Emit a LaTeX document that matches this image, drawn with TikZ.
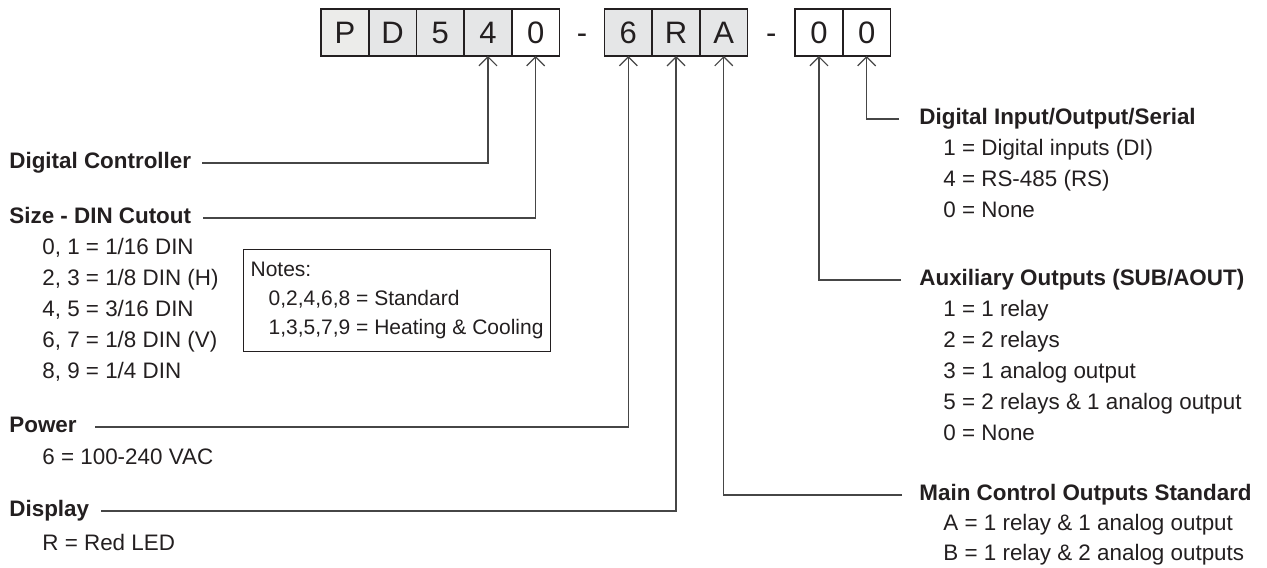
\documentclass[tikz,border=0pt]{standalone}
\usepackage{fontspec}
\setmainfont{Liberation Sans}
\usetikzlibrary{positioning,arrows.meta}

\definecolor{boxgray}{RGB}{229,230,231}
\definecolor{boxpale}{RGB}{236,236,234}
\definecolor{inkgray}{RGB}{35,31,32}
\definecolor{wiregray}{RGB}{70,70,70}

\tikzset{
    digit/.style={draw=inkgray, line width=0.8pt, fill=boxgray, minimum width=23.85pt,
        minimum height=23.5pt, inner sep=0pt, outer sep=0pt, text height=11pt, text depth=0pt,
        font=\fontsize{15.5}{17}\selectfont},
    dashgap/.style={minimum height=23.5pt, inner sep=0pt, outer sep=0pt, text height=11pt,
        text depth=0pt, font=\fontsize{15.5}{17}\selectfont},
    head/.style={anchor=west, inner sep=0pt, text height=8.2pt, text depth=2.4pt,
        font=\fontsize{11.2}{13}\selectfont\bfseries},
    entry/.style={anchor=west, inner sep=0pt, text height=8.2pt, text depth=2.4pt,
        font=\fontsize{11.2}{13}\selectfont},
    notebox/.style={draw=inkgray, line width=0.6pt, align=left, anchor=north west,
        inner xsep=3.5pt, inner ysep=6.3pt, font=\fontsize{10.5}{14.5}\selectfont},
    wire/.style={draw=wiregray, line width=0.6pt, -{Straight Barb[length=4.5pt,width=9pt]}},
}

\begin{document}
\begin{tikzpicture}[x=0.5pt, y=-0.5pt, text=inkgray]
    \useasboundingbox (0,0) rectangle (1267,567);

    % part number
    \node[digit, fill=boxpale, anchor=north west] (pP) at (321,9) {P};
    \node[digit, right=0pt of pP] (pD) {D};
    \node[digit, right=0pt of pD] (p5) {5};
    \node[digit, right=0pt of p5] (p4) {4};
    \node[digit, fill=white, right=0pt of p4] (p0) {0};
    \node[dashgap, minimum width=22.5pt, right=0pt of p0] (dashA) {-};
    \node[digit, right=0pt of dashA] (p6) {6};
    \node[digit, right=0pt of p6] (pR) {R};
    \node[digit, right=0pt of pR] (pA) {A};
    \node[dashgap, minimum width=23.75pt, right=0pt of pA] (dashB) {-};
    \node[digit, fill=white, right=0pt of dashB] (pX) {0};
    \node[digit, fill=white, right=0pt of pX] (pY) {0};

    % left column
    \node[head] (ctrl) at (9,163) {Digital Controller};
    \node[head] (size) at (9,218) {Size - DIN Cutout};
    \foreach \txt [count=\i] in {{0, 1 = 1/16 DIN}, {2, 3 = 1/8 DIN (H)}, {4, 5 = 3/16 DIN},
        {6, 7 = 1/8 DIN (V)}, {8, 9 = 1/4 DIN}}
        \node[entry] (size\i) at (42,218+31*\i) {\txt};
    \node[notebox] (notes) at (243,249) {Notes:\\
        \hspace*{9pt}0,2,4,6,8 = Standard\\
        \hspace*{9pt}1,3,5,7,9 = Heating \& Cooling};
    \node[head] (power) at (9,427) {Power};
    \node[entry] (power1) at (42,459) {6 = 100-240 VAC};
    \node[head] (disp) at (9,511) {Display};
    \node[entry] (disp1) at (42,545) {R = Red LED};

    % right column
    \node[head] (dio) at (919,119) {Digital Input/Output/Serial};
    \foreach \txt [count=\i] in {{1 = Digital inputs (DI)}, {4 = RS-485 (RS)}, {0 = None}}
        \node[entry] (dio\i) at (943,119+31*\i) {\txt};
    \node[head] (aux) at (919,280) {Auxiliary Outputs (SUB/AOUT)};
    \foreach \txt [count=\i] in {{1 = 1 relay}, {2 = 2 relays}, {3 = 1 analog output},
        {5 = 2 relays \& 1 analog output}, {0 = None}}
        \node[entry] (aux\i) at (943,280+31*\i) {\txt};
    \node[head] (mainout) at (919,495) {Main Control Outputs Standard};
    \node[entry] (mainout1) at (943,525) {A = 1 relay \& 1 analog output};
    \node[entry] (mainout2) at (943,555) {B = 1 relay \& 2 analog outputs};

    % leaders
    \draw[wire] ([xshift=5.5pt]ctrl.east) -| (p4.south);
    \draw[wire] ([xshift=6pt]size.east) -| (p0.south);
    \draw[wire] ([xshift=9pt]power.east) -| (p6.south);
    \draw[wire] ([xshift=6pt]disp.east) -| (pR.south);
    \draw[wire] ([xshift=-8.5pt]mainout.west) -| (pA.south);
    \draw[wire] ([xshift=-9pt]aux.west) -| (pX.south);
    \draw[wire] ([xshift=-10pt]dio.west) -| (pY.south);
\end{tikzpicture}
\end{document}
